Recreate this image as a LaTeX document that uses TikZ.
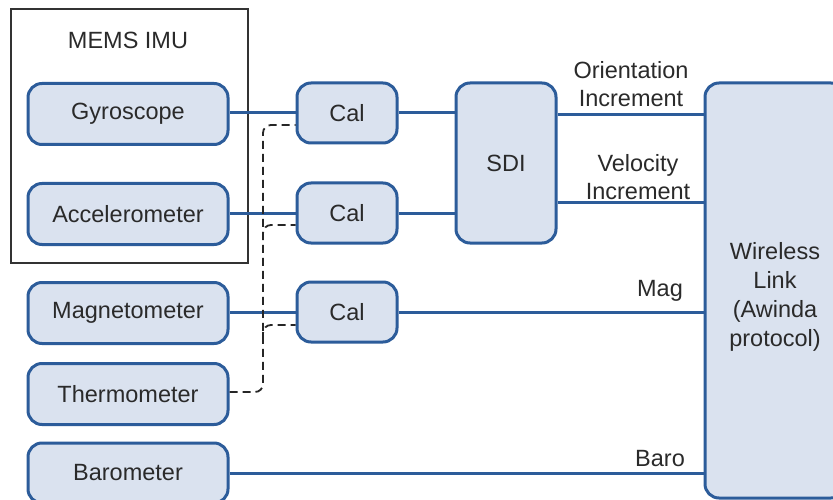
\documentclass[tikz,border=0pt]{standalone}
\usepackage{fontspec}
\setmainfont{Liberation Sans}
\definecolor{boxfill}{HTML}{DAE2EF}
\definecolor{boxline}{HTML}{2C5C9A}
\definecolor{txt}{HTML}{2A2A2A}
\begin{document}
\begin{tikzpicture}[x=1pt,y=-1pt,
  every node/.style={font=\fontsize{23.5}{28}\selectfont, text=txt, inner sep=0pt},
  blk/.style={draw=boxline, line width=3pt, fill=boxfill, rounded corners=14pt, align=center},
  sensor/.style={blk, minimum width=200pt, minimum height=61pt},
  calbox/.style={blk, minimum width=100pt, minimum height=60pt},
  wire/.style={draw=boxline, line width=3pt},
  dline/.style={draw=black!85, line width=1.8pt, dash pattern=on 8pt off 5pt, rounded corners=8pt},
  lbl/.style={align=center}]
\useasboundingbox (0,0) rectangle (833,500);
\clip (0,0) rectangle (833,500);
\fill[white] (0,0) rectangle (833,500);
% MEMS IMU frame
\node[draw=black!80, line width=1.5pt, minimum width=237pt, minimum height=254pt] (imu) at (129.5,136) {};
\node (imutitle) at (128,40) {MEMS IMU};
% sensors
\node[sensor] (gyro) at (128,114) {Gyroscope};
\node[sensor] (acc) at (128,214) {Accelerometer};
\node[sensor] (mag) at (128,313) {Magnetometer};
\node[sensor] (thermo) at (128,394) {Thermometer};
\node[sensor, minimum height=60pt] (baro) at (128,473) {Barometer};
% cal
\node[calbox] (cal1) at (347,113) {Cal};
\node[calbox] (cal2) at (347,213) {Cal};
\node[calbox] (cal3) at (347,312) {Cal};
% SDI
\node[blk, minimum width=100pt, minimum height=160pt] (sdi) at (506,163) {SDI};
% wireless
\node[blk, minimum width=140pt, minimum height=415pt] (wl) at (775,290.5) {};
\node[align=center, font=\fontsize{23.5}{29}\selectfont] (wltext) at (775,297) {Wireless\\Link\\(Awinda\\protocol)};
% wires
\draw[wire] (cal1.west) -- (cal1.west -| gyro.east);
\draw[wire] (cal2.west) -- (cal2.west -| acc.east);
\draw[wire] (cal3.west) -- (cal3.west -| mag.east);
\draw[wire] (cal1.east) -- (cal1.east -| sdi.west);
\draw[wire] (cal2.east) -- (cal2.east -| sdi.west);
\draw[wire] ([yshift=-33pt]sdi.north east) -- ([yshift=-33pt]sdi.north east -| wl.west);
\draw[wire] ([yshift=-121pt]sdi.north east) -- ([yshift=-121pt]sdi.north east -| wl.west);
\draw[wire] (cal3.east) -- (cal3.east -| wl.west);
\draw[wire] (baro.east) -- (baro.east -| wl.west);
% labels
\node[lbl] (lor) at (631,84) {Orientation\\Increment};
\node[lbl] (lvel) at (638,177) {Velocity\\Increment};
\node (lmag) at (660,291) {Mag};
\node (lbaro) at (660,459) {Baro};
% dashed temperature line
\coordinate (v) at (263,300);
\draw[dline] ([yshift=2pt]thermo.east) -- ([yshift=2pt]thermo.east -| v) -- (v |- 0,125) -- ([yshift=-12pt]cal1.west);
\draw[dline] (v |- 0,240) |- ([yshift=-12pt]cal2.west);
\draw[dline] (v |- 0,340) |- ([yshift=-13pt]cal3.west);
\end{tikzpicture}
\end{document}
